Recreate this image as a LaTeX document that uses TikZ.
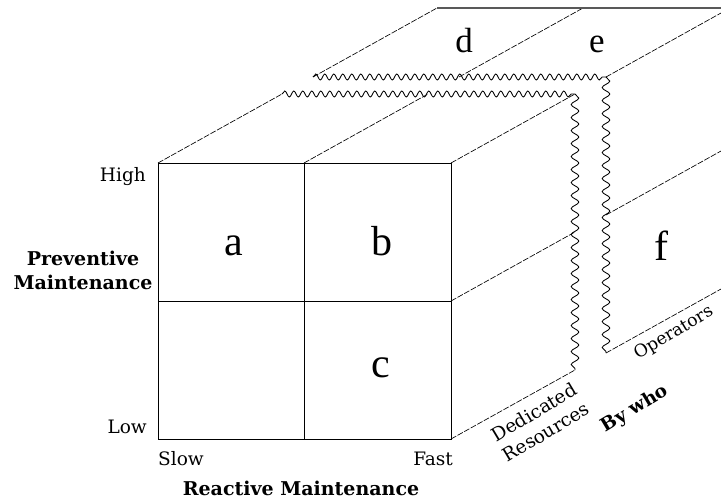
\documentclass[tikz,border=0pt]{standalone}
\usepackage{fontspec}
\setmainfont{DejaVu Serif}
\newfontfamily\letterfont{Liberation Serif}
\usetikzlibrary{calc,decorations.pathmorphing}
\begin{document}
\begin{tikzpicture}[x=1pt,y=-1pt,
  face/.style={draw=black,line width=0.9pt},
  hidden/.style={draw=black,line width=0.65pt,dash pattern=on 6pt off 1.5pt},
  backedge/.style={draw=black!65,line width=1.8pt},
  wavyh/.style={draw=black,line width=0.85pt,decorate,decoration={snake,amplitude=3pt,segment length=9pt}},
  wavyv/.style={draw=black,line width=0.85pt,decorate,decoration={snake,amplitude=3.8pt,segment length=13pt}},
  bigletter/.style={font=\letterfont\fontsize{42}{44}\selectfont,anchor=base,inner sep=0pt},
  smallletter/.style={font=\letterfont\fontsize{35}{37}\selectfont,anchor=base,inner sep=0pt},
  axislabel/.style={font=\fontsize{18.5}{20}\selectfont,inner sep=0pt},
  axistitle/.style={font=\bfseries\fontsize{19}{24}\selectfont,align=center,inner sep=0pt}
]
\useasboundingbox (0,0) rectangle (721,500);
\clip (0,0) rectangle (721,500);

% front face corners
\coordinate (FTL) at (158,163);
\coordinate (FTM) at (304,163);
\coordinate (FTR) at (451,163);
\coordinate (FML) at (158,301);
\coordinate (FMR) at (451,301);
\coordinate (FBL) at (158,439);
\coordinate (FBM) at (304,439);
\coordinate (FBR) at (451,439);

% front section (depth 1)
\coordinate (A1) at ($(FTL)+(124,-69)$);
\coordinate (A2) at ($(FTM)+(124,-69)$);
\coordinate (A3) at ($(FTR)+(124,-69)$);
\coordinate (A4) at ($(FMR)+(124,-69)$);
\coordinate (A5) at ($(FBR)+(124,-69)$);
% back section start (depth 2)
\coordinate (B1) at ($(FTL)+(155,-86)$);
\coordinate (B2) at ($(FTM)+(155,-86)$);
\coordinate (B3) at ($(FTR)+(155,-86)$);
\coordinate (B4) at ($(FMR)+(155,-86)$);
\coordinate (B5) at ($(FBR)+(155,-86)$);
% back end (depth 3)
\coordinate (C1) at ($(FTL)+(279,-155)$);
\coordinate (C2) at ($(FTM)+(279,-155)$);
\coordinate (C3) at ($(FTR)+(279,-155)$);
\coordinate (C4) at ($(FMR)+(279,-155)$);
\coordinate (C5) at ($(FBR)+(279,-155)$);

% front face
\draw[face] (FTL) rectangle (FBR);
\draw[face] (FTM) -- (FBM);
\draw[face] (FML) -- (FMR);

% front section receding edges
\draw[hidden] (FTL) -- (A1);
\draw[hidden] (FTM) -- (A2);
\draw[hidden] (FTR) -- (A3);
\draw[hidden] (FMR) -- (A4);
\draw[hidden] (FBR) -- (A5);

% break lines
\draw[wavyh] (A1) -- (A3);
\draw[wavyv] (A3) -- (A5);
\draw[wavyh] (B1) -- (B3);
\draw[wavyv] (B3) -- (B5);

% back section edges
\draw[hidden] (B1) -- (C1);
\draw[hidden] (B2) -- (C2);
\draw[hidden] (B3) -- (C3);
\draw[hidden] (B4) -- (C4);
\draw[hidden] (B5) -- (C5);
\draw[backedge] (C1) -- (C3);

% cell letters
\node[bigletter] (la) at (234,255) {a};
\node[bigletter] (lb) at (382,255) {b};
\node[bigletter] (lc) at (381,377) {c};
\node[smallletter] (ld) at (464,53) {d};
\node[smallletter] (le) at (597,53) {e};
\node[bigletter] (lf) at (661,260) {f};

% axis labels
\node[axislabel,anchor=base east] (high) at (146,182) {High};
\node[axislabel,anchor=base east] (low) at (147,433) {Low};
\node[axislabel,anchor=base west] (slow) at (158,465) {Slow};
\node[axislabel,anchor=base east] (fast) at (453,465) {Fast};
\node[axistitle,anchor=base] (pm) at (83,289) {Preventive\\Maintenance};
\node[axistitle,anchor=base] (rm) at (301,495) {Reactive Maintenance};

% depth labels
\node[font=\fontsize{18.5}{23}\selectfont,align=center,rotate=31,inner sep=0pt] (dr) at (540,422) {Dedicated\\Resources};
\node[font=\bfseries\fontsize{18.5}{20}\selectfont,rotate=31,inner sep=0pt] (bw) at (635,409) {By who};
\node[font=\fontsize{17.3}{20}\selectfont,rotate=31,anchor=base west,inner sep=0pt] (op) at (638,360) {Operators};
\end{tikzpicture}
\end{document}
